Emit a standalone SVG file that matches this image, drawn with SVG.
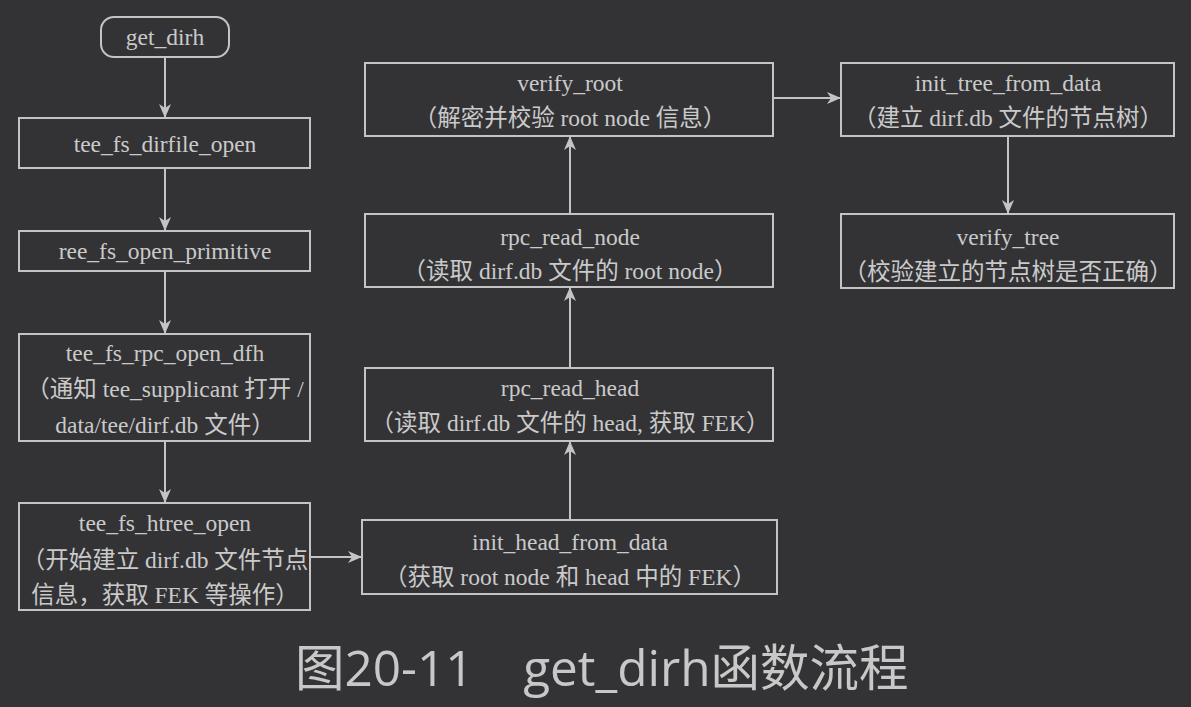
<svg xmlns="http://www.w3.org/2000/svg" width="1191" height="707" viewBox="0 0 1191 707">
<defs>
<style>
.box{fill:#333336;stroke:#c4c4c4;stroke-width:2}
.t{font-family:"Liberation Serif","Noto Sans CJK SC",serif;font-size:23.5px;fill:#cacaca;text-anchor:middle}
.edge{fill:none;stroke:#c4c4c4;stroke-width:2}
.cap{font-family:"Open Sans","Noto Sans CJK SC",sans-serif;font-size:49.5px;fill:#c8c8c8}
</style>
<marker id="ah" viewBox="0 0 14 12" refX="13" refY="6" markerWidth="14" markerHeight="12" markerUnits="userSpaceOnUse" orient="auto">
<path d="M0,0 L14,6 L0,12 L4,6 Z" fill="#c4c4c4"/>
</marker>
</defs>
<rect width="1191" height="707" fill="#333336"/>
<g id="connectors">
<path class="edge" d="M165,57 V117" marker-end="url(#ah)"/>
<path class="edge" d="M165,168 V230" marker-end="url(#ah)"/>
<path class="edge" d="M165,271 V333" marker-end="url(#ah)"/>
<path class="edge" d="M165,441 V502" marker-end="url(#ah)"/>
<path class="edge" d="M310,557 H361" marker-end="url(#ah)"/>
<path class="edge" d="M570,520 V442" marker-end="url(#ah)"/>
<path class="edge" d="M570,368 V288" marker-end="url(#ah)"/>
<path class="edge" d="M570,214 V137" marker-end="url(#ah)"/>
<path class="edge" d="M773,98 H840" marker-end="url(#ah)"/>
<path class="edge" d="M1008,136 V213" marker-end="url(#ah)"/>
</g>
<g id="get_dirh">
<rect class="box" x="101" y="17" width="128" height="40" rx="13"/>
<text class="t" x="165" y="45">get_dirh</text>
</g>
<g id="tee_fs_dirfile_open">
<rect class="box" x="19" y="118" width="291" height="50"/>
<text class="t" x="165" y="152">tee_fs_dirfile_open</text>
</g>
<g id="ree_fs_open_primitive">
<rect class="box" x="19" y="231" width="291" height="40"/>
<text class="t" x="165" y="259">ree_fs_open_primitive</text>
</g>
<g id="tee_fs_rpc_open_dfh">
<rect class="box" x="19" y="334" width="291" height="107"/>
<text class="t" x="165" y="361">tee_fs_rpc_open_dfh</text>
<text class="t" x="165" y="397">（通知 tee_supplicant 打开 /</text>
<text class="t" x="165" y="433">data/tee/dirf.db 文件）</text>
</g>
<g id="tee_fs_htree_open">
<rect class="box" x="19" y="503" width="291" height="107"/>
<text class="t" x="165" y="531">tee_fs_htree_open</text>
<text class="t" x="165" y="568">（开始建立 dirf.db 文件节点</text>
<text class="t" x="165" y="603">信息，获取 FEK 等操作）</text>
</g>
<g id="init_head_from_data">
<rect class="box" x="362" y="520" width="415" height="74"/>
<text class="t" x="570" y="550">init_head_from_data</text>
<text class="t" x="570" y="585">（获取 root node 和 head 中的 FEK）</text>
</g>
<g id="rpc_read_head">
<rect class="box" x="365" y="368" width="408" height="73"/>
<text class="t" x="570" y="396">rpc_read_head</text>
<text class="t" x="570" y="431">（读取 dirf.db 文件的 head, 获取 FEK）</text>
</g>
<g id="rpc_read_node">
<rect class="box" x="365" y="214" width="408" height="73"/>
<text class="t" x="570" y="245">rpc_read_node</text>
<text class="t" x="570" y="279">（读取 dirf.db 文件的 root node）</text>
</g>
<g id="verify_root">
<rect class="box" x="365" y="63" width="408" height="73"/>
<text class="t" x="570" y="91">verify_root</text>
<text class="t" x="570" y="126">（解密并校验 root node 信息）</text>
</g>
<g id="init_tree_from_data">
<rect class="box" x="841" y="63" width="333" height="73"/>
<text class="t" x="1008" y="91">init_tree_from_data</text>
<text class="t" x="1008" y="126">（建立 dirf.db 文件的节点树）</text>
</g>
<g id="verify_tree">
<rect class="box" x="841" y="214" width="333" height="74"/>
<text class="t" x="1008" y="245">verify_tree</text>
<text class="t" x="1008" y="280">（校验建立的节点树是否正确）</text>
</g>
<text class="cap" x="295" y="686">图20-11　get_dirh函数流程</text>
</svg>
